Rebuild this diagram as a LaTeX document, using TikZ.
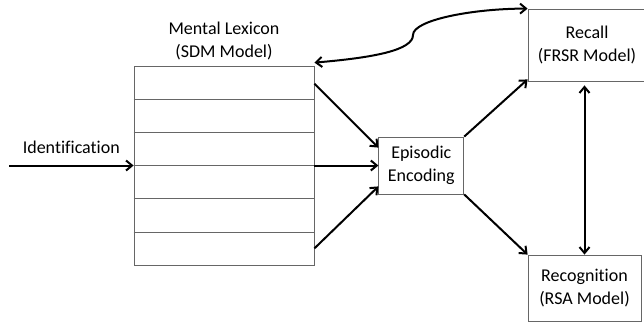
\documentclass[tikz,border=0pt]{standalone}
\usepackage{fontspec}
\setmainfont{Carlito}[Ligatures=NoCommon]
\usetikzlibrary{arrows.meta, positioning, calc}

\begin{document}
\begin{tikzpicture}[x=1pt, y=-1pt]
\tikzset{% styles for boxes, rows and arrows
  block/.style={rectangle, draw=black!60, line width=0.8pt, fill=white, inner sep=0pt, align=center, font=\fontsize{18}{23}\selectfont},
  textlabel/.style={inner sep=0pt, align=center, font=\fontsize{18}{23}\selectfont},
  row/.style={draw=black!60, line width=0.8pt},
  line/.style={draw, line width=2pt, black, ->},
  >={Straight Barb[length=6pt, width=10pt]},
}
\useasboundingbox (0,0) rectangle (644,325);

\node[block, minimum width=180pt, minimum height=199pt] (lexicon) at (224,165.5) {};
\foreach \i in {1,...,5}
  \draw[row] ($(lexicon.north west)!\i/6!(lexicon.south west)$)
    -- ($(lexicon.north east)!\i/6!(lexicon.south east)$);
\node[textlabel, above=5.5pt of lexicon] (lexiconname) {Mental Lexicon\\(SDM Model)};

\node[block, minimum width=85pt, minimum height=57pt, right=64pt of lexicon]
  (episodic) {Episodic\\Encoding};
\node[block, minimum width=118pt, minimum height=72pt] (recall) at (587,45)
  {Recall\\(FRSR Model)};
\node[block, minimum width=113pt, minimum height=66pt] (recognition) at (584.5,288)
  {Recognition\\(RSA Model)};

\coordinate (input) at (9,165.5);
\coordinate (bend) at (413,35);

\draw[line] (input) -- (lexicon.west)
  node[textlabel, midway, above=11pt] {Identification};
\draw[line] ($(lexicon.north east)+(0,18)$) -- ($(episodic.north west)+(0,11)$);
\draw[line] (lexicon.east) -- (episodic.west);
\draw[line] ($(lexicon.south east)+(0,-17)$) -- ($(episodic.south west)+(0,-8)$);
\draw[line] (episodic.north east) -- ($(recall.south west)+(0,-2)$);
\draw[line] (episodic.south east) -- (recognition.north west);
\draw[line, <->, shorten <=4pt] (recall.south -| recognition.north) -- (recognition.north);
\draw[line, <->] ([yshift=3pt]lexicon.north east)
  .. controls +(60,-5) and +(0,15) .. (bend)
  .. controls +(0,-15) and +(-55,0) .. (recall.north west);
\end{tikzpicture}
\end{document}
